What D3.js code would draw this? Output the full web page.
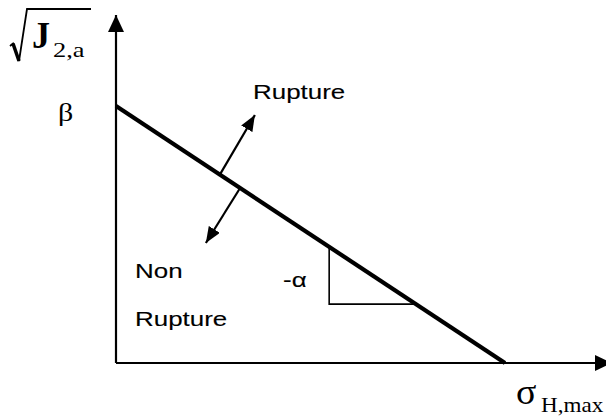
<!DOCTYPE html>
<html><head><meta charset="utf-8">
<script src="https://cdn.jsdelivr.net/npm/d3@7"></script>
<style>body{margin:0;background:#fff}svg{display:block}</style>
</head><body><svg id="c" width="606" height="416"></svg>
<script>
// ---- data (diagram units: x = sigma_H,max, y = sqrt(J2,a)) ----
const beta = 1;                      // intercept on the sqrt(J2,a) axis
const alpha = 1;                     // slope magnitude (-alpha)
const axisMax = [1.275, 1.354];      // axis extents [sigma, sqrtJ]
const criterionSigma = [0, beta / alpha];
const criterionJ = [beta, 0];
const triangleSigma = [0.548, 0.771];       // slope triangle corners (on the line)
const arrowStartSigma = [0.267, 0.319];     // arrows start on the criterion line
const arrowEndSigma = [0.357, 0.231];
const arrowEndJ = [0.965, 0.467];
const regionLabels = ["Rupture", "Non", "Rupture"];
const slopeLabel = "-α";
const interceptLabel = "β";
const yLabel = ["J", "2,a"];
const xLabel = ["σ", "H,max"];

// ---- layout ----
const W = 606, H = 416;
const svg = d3.select("#c");
svg.append("rect").attr("width", W).attr("height", H).attr("fill", "#fff");

const x = d3.scaleLinear().domain([0, axisMax[0]]).range([116, 116 + axisMax[0] * 389]);
const y = d3.scaleLinear().domain([0, axisMax[1]]).range([363, 363 - axisMax[1] * 257]);

const defs = svg.append("defs");
function marker(id, len, half) {
  defs.append("marker").attr("id", id)
    .attr("markerUnits", "userSpaceOnUse")
    .attr("viewBox", `0 0 ${len} ${half * 2}`)
    .attr("refX", len).attr("refY", half)
    .attr("markerWidth", len).attr("markerHeight", half * 2)
    .attr("orient", "auto")
    .append("path").attr("d", `M0,0L${len},${half}L0,${half * 2}Z`).attr("fill", "#000");
}
marker("axArrow", 17, 8);
marker("smArrow", 16, 6.5);

const line = d3.line().x(d => x(d[0])).y(d => y(d[1]));

// axes
svg.append("path").attr("d", line([[0, 0], [0, axisMax[1]]]))
  .attr("stroke", "#000").attr("stroke-width", 2.2).attr("fill", "none").attr("marker-end", "url(#axArrow)");
svg.append("path").attr("d", line([[0, 0], [axisMax[0], 0]]))
  .attr("stroke", "#000").attr("stroke-width", 2.2).attr("fill", "none").attr("marker-end", "url(#axArrow)");

// slope triangle
const tTop = beta - alpha * triangleSigma[0];
const tBot = beta - alpha * triangleSigma[1];
svg.append("path").attr("d", line([[triangleSigma[0], tTop], [triangleSigma[0], tBot], [triangleSigma[1], tBot]]))
  .attr("stroke", "#000").attr("stroke-width", 1.6).attr("fill", "none");

// criterion line
svg.append("path").attr("d", line(criterionSigma.map((s, i) => [s, criterionJ[i]])))
  .attr("stroke", "#000").attr("stroke-width", 4.2).attr("fill", "none");

// direction arrows
arrowStartSigma.forEach((s, i) => {
  const j = beta - alpha * s;
  svg.append("path").attr("d", line([[s, j], [arrowEndSigma[i], arrowEndJ[i]]]))
    .attr("stroke", "#000").attr("stroke-width", 2.2).attr("fill", "none").attr("marker-end", "url(#smArrow)");
});

// text helper
function txt(t, px, py, family, size, sx, weight, sw) {
  const el = svg.append("text").attr("transform", `translate(${px},${py}) scale(${sx},1)`)
    .attr("font-family", family).attr("font-size", size).attr("font-weight", weight || "normal")
    .attr("fill", "#000").text(t);
  if (sw) el.attr("stroke", "#000").attr("stroke-width", sw);
}
const sans = "'Liberation Sans', Arial, sans-serif";
const serif = "'Liberation Serif', 'Times New Roman', serif";

txt(regionLabels[0], 253, 99, sans, 19.5, 1.33, "normal", 0.12);
txt(regionLabels[1], 135, 278, sans, 19.5, 1.33, "normal", 0.12);
txt(regionLabels[2], 135, 326, sans, 19.5, 1.33, "normal", 0.12);
txt(slopeLabel, 283, 287, sans, 19.5, 1.33, "normal", 0.12);
txt(interceptLabel, 58, 121, serif, 25, 1.2);

// y label: radical + J_{2,a}
svg.append("path").attr("d", "M10,46L13,43.5L19,61L27,9H91")
  .attr("stroke", "#000").attr("stroke-width", 1.8).attr("fill", "none").attr("stroke-linejoin", "miter");
svg.append("path").attr("d", "M13,43.5L19,61")
  .attr("stroke", "#000").attr("stroke-width", 3.5).attr("fill", "none");
txt(yLabel[0], 32, 48, serif, 38, 0.95, "bold");
txt(yLabel[1], 53, 57, serif, 22, 1.2);

// x label: sigma_{H,max}
txt(xLabel[0], 516, 404, serif, 36, 1.05);
txt(xLabel[1], 541, 412, serif, 22, 1.05);
</script></body></html>
